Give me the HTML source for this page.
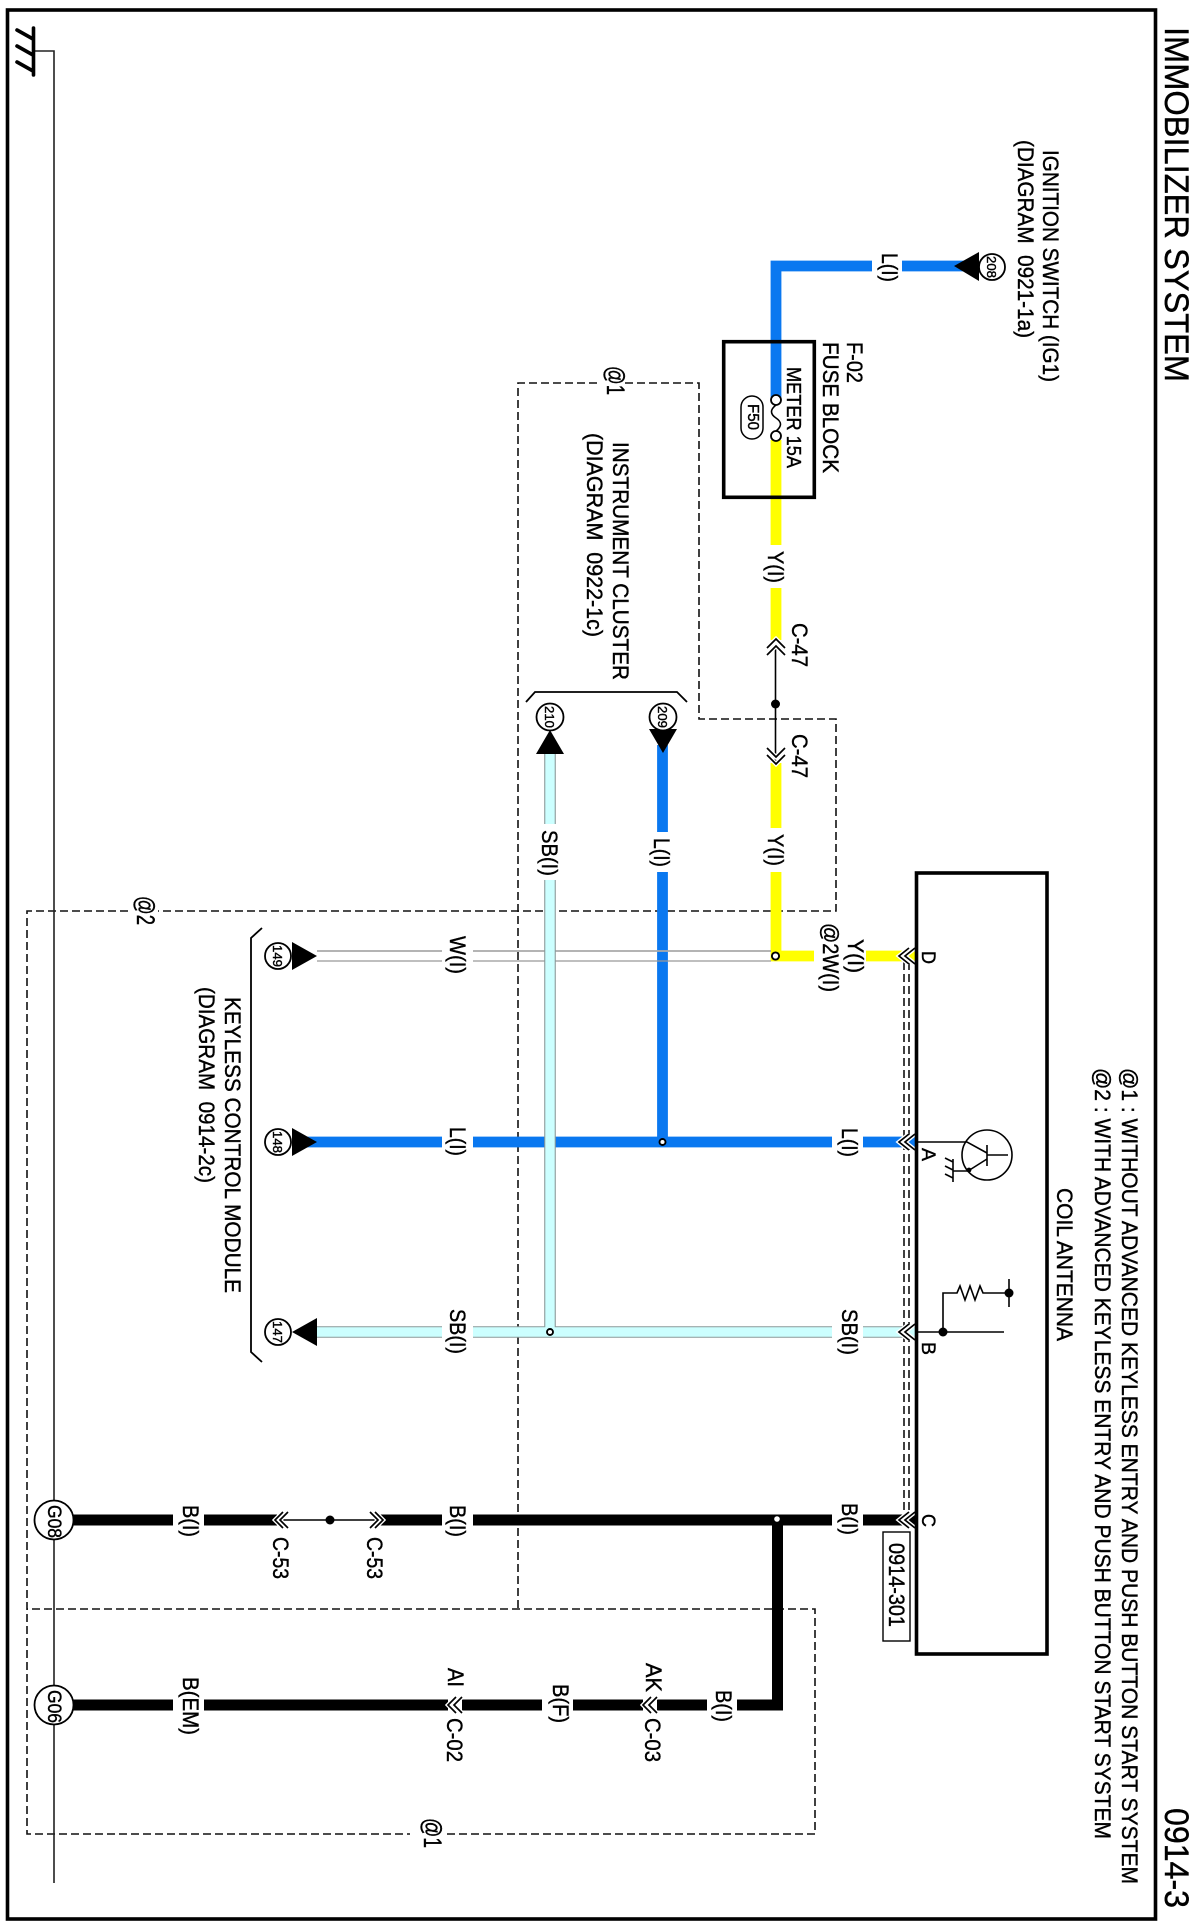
<!DOCTYPE html>
<html><head><meta charset="utf-8"><style>
html,body{margin:0;padding:0;background:#fff}
svg{display:block}
text{font-family:"Liberation Sans",sans-serif;fill:#000;stroke:#000;stroke-width:.4px}
</style></head><body>
<svg width="1197" height="1927" viewBox="0 0 1197 1927" xmlns="http://www.w3.org/2000/svg">
<rect width="1197" height="1927" fill="#fff"/>
<rect x="7.5" y="10" width="1148" height="1909" fill="none" stroke="#000" stroke-width="3.6"/>

<!-- dashed -->
<g fill="none" stroke="#111" stroke-width="1.6" stroke-dasharray="8 4">
<path d="M597 383H518V1609"/>
<path d="M625 383H699V719H836V911H158"/>
<path d="M128 911H27V1834H410"/>
<path d="M447 1834H815V1609H27"/>
<path d="M904 962V1515"/>
<path d="M909 962V1515"/>
</g>

<!-- ground bus -->
<path d="M33.5 51H54V1883" fill="none" stroke="#222" stroke-width="1.6"/>
<g stroke="#000" stroke-width="3.6" stroke-linecap="round" fill="none">
<path d="M33.5 28V75M17 30L33 39M17 46L33 55M17 62L33 71"/>
</g>

<!-- wires: blue -->
<g fill="none" stroke="#0a78f0" stroke-width="10.8">
<path d="M872 266H776V399"/>
<path d="M902 266H965"/>
<path d="M662.5 745V832M662.5 872V1142"/>
<path d="M305 1142H442M473 1142H832M863 1142H915"/>
</g>
<!-- yellow -->
<g fill="none" stroke="#ffff00" stroke-width="10.8">
<path d="M776 440V545M776 588V640"/>
<path d="M776 763V828M776 872V956H814"/>
<path d="M866 956H915"/>
</g>
<!-- white -->
<g fill="none">
<path d="M317 951H442M473 951H771" stroke="#aaa" stroke-width="1.8"/>
<path d="M317 961H442M473 961H771" stroke="#999" stroke-width="1.2"/>
</g>
<!-- light blue -->
<g fill="none" stroke="#8a9a9a" stroke-width="11.6">
<path d="M550 752V824M550 880V1332"/>
<path d="M317 1332H442M473 1332H832M863 1332H915"/>
</g>
<g fill="none" stroke="#ccffff" stroke-width="9.4">
<path d="M550 752V824M550 880V1332"/>
<path d="M317 1332H442M473 1332H832M863 1332H915"/>
</g>
<!-- black -->
<g fill="none" stroke="#000" stroke-width="11">
<path d="M73 1520H173M204 1520H277"/>
<path d="M380 1520H442M473 1520H832M863 1520H915"/>
<path d="M707 1705H657M643 1705H573M542 1705H462M448 1705H204M173 1705H73"/>
<path d="M737 1705H777.5V1520"/>
</g>
<circle cx="777" cy="1519" r="2.8" fill="#fff"/>

<!-- thin connectors -->
<g fill="none" stroke="#000" stroke-width="1.6">
<path d="M775.5 646V762"/>
<path d="M277 1520H378"/>
</g>
<circle cx="775.5" cy="704" r="4.5"/>
<circle cx="330" cy="1520" r="4.5"/>

<!-- junctions -->
<g fill="#fff" stroke="#000" stroke-width="1.9">
<circle cx="775.5" cy="956" r="3.6"/>
<circle cx="662.5" cy="1142" r="3"/>
<circle cx="550" cy="1332" r="3"/>
</g>

<!-- chevrons -->
<g fill="none" stroke="#fff" stroke-width="4.4">
<path d="M909 948L899 956L909 964M915 948L905 956L915 964"/>
<path d="M909 1134L899 1142L909 1150M915 1134L905 1142L915 1150"/>
<path d="M909 1324L899 1332L909 1340M915 1324L905 1332L915 1340"/>
<path d="M909 1512L899 1520L909 1528M915 1512L905 1520L915 1528"/>
<path d="M767 648L776 639L785 648M767 655L776 646L785 655"/>
<path d="M767 755L776 764L785 755M767 748L776 757L785 748"/>
<path d="M283 1512L275 1520L283 1528M288 1512L280 1520L288 1528"/>
<path d="M375 1512L383 1520L375 1528M370 1512L378 1520L370 1528"/>
<path d="M456 1697L448 1705L456 1713M462 1697L454 1705L462 1713"/>
<path d="M651 1697L643 1705L651 1713M657 1697L649 1705L657 1713"/>
</g>
<g fill="none" stroke="#000" stroke-width="1.7">
<path d="M909 948L899 956L909 964M915 948L905 956L915 964"/>
<path d="M909 1134L899 1142L909 1150M915 1134L905 1142L915 1150"/>
<path d="M909 1324L899 1332L909 1340M915 1324L905 1332L915 1340"/>
<path d="M909 1512L899 1520L909 1528M915 1512L905 1520L915 1528"/>
<path d="M767 648L776 639L785 648M767 655L776 646L785 655"/>
<path d="M767 755L776 764L785 755M767 748L776 757L785 748"/>
<path d="M283 1512L275 1520L283 1528M288 1512L280 1520L288 1528"/>
<path d="M375 1512L383 1520L375 1528M370 1512L378 1520L370 1528"/>
<path d="M456 1697L448 1705L456 1713M462 1697L454 1705L462 1713"/>
<path d="M651 1697L643 1705L651 1713M657 1697L649 1705L657 1713"/>
</g>

<!-- arrows -->
<path d="M954 266L979 252V281Z"/>
<path d="M317 956L292 942V970Z"/>
<path d="M317 1142L292 1128V1156Z"/>
<path d="M292 1332L317 1318V1346Z"/>
<path d="M663 753L649 729H677Z"/>
<path d="M550 730L536 754H564Z"/>

<!-- circles -->
<g fill="#fff" stroke="#000" stroke-width="1.8">
<circle cx="992" cy="267" r="13"/>
<circle cx="278" cy="956" r="13"/>
<circle cx="278" cy="1142" r="13"/>
<circle cx="278" cy="1332" r="13"/>
<circle cx="663" cy="717" r="13.5"/>
<circle cx="550" cy="717" r="13.5"/>
<circle cx="54" cy="1520" r="19.5"/>
<circle cx="54" cy="1705" r="19.5"/>
</g>

<!-- brackets -->
<g fill="none" stroke="#000" stroke-width="1.8">
<path d="M526 702L535 692H677L687 702"/>
<path d="M262 928L251 938V1352L262 1362"/>
</g>

<!-- fuse block -->
<rect x="723.7" y="341.7" width="90.6" height="155.6" fill="none" stroke="#000" stroke-width="3.6"/>
<g fill="#fff" stroke="#000" stroke-width="1.8">
<circle cx="776" cy="400" r="5"/>
<circle cx="776" cy="436" r="5"/>
</g>
<path d="M776 405Q767 412 776 418T776 431" fill="none" stroke="#000" stroke-width="1.6"/>
<rect x="741" y="396" width="22" height="43" rx="11" fill="#fff" stroke="#000" stroke-width="1.5"/>

<!-- coil antenna -->
<rect x="916.5" y="873" width="130.5" height="781" fill="none" stroke="#000" stroke-width="3.6"/>
<circle cx="987" cy="1155" r="25" fill="none" stroke="#000" stroke-width="1.6"/>
<g fill="none" stroke="#000" stroke-width="1.6">
<path d="M917 1142H967L987 1153"/>
<path d="M987 1145V1166M987 1155H1008"/>
<path d="M987 1159L968 1171H953"/>
<path d="M953 1159V1182M953 1162L945 1158M953 1170L945 1166M953 1178L945 1174"/>
<path d="M917 1332H1004"/>
<path d="M943 1332V1293H957L960 1286L965 1300L970 1286L975 1300L980 1286L983 1293H1009"/>
<path d="M1009 1279V1307"/>
</g>
<circle cx="969" cy="1170" r="2.4"/>
<circle cx="943" cy="1332" r="4.5"/>
<circle cx="1009" cy="1293" r="4.5"/>

<!-- id box -->
<rect x="883" y="1532" width="27" height="109" fill="#fff" stroke="#000" stroke-width="1.4"/>

<!-- text -->
<g>
<text transform="translate(1165 27) rotate(90)" font-size="34" textLength="355" lengthAdjust="spacingAndGlyphs">IMMOBILIZER SYSTEM</text>
<text transform="translate(1165 1808) rotate(90)" font-size="34" textLength="100" lengthAdjust="spacingAndGlyphs">0914-3</text>
<text transform="translate(1043 150) rotate(90)" font-size="22" textLength="232" lengthAdjust="spacingAndGlyphs">IGNITION SWITCH (IG1)</text>
<text transform="translate(1018 140) rotate(90)" font-size="22" textLength="198" lengthAdjust="spacingAndGlyphs" xml:space="preserve">(DIAGRAM  0921-1a)</text>
<text transform="translate(882 253) rotate(90)" font-size="22" textLength="29" lengthAdjust="spacingAndGlyphs">L(I)</text>
<text transform="translate(847 342) rotate(90)" font-size="22" textLength="41" lengthAdjust="spacingAndGlyphs">F-02</text>
<text transform="translate(823 342) rotate(90)" font-size="22" textLength="131" lengthAdjust="spacingAndGlyphs">FUSE BLOCK</text>
<text transform="translate(787 367) rotate(90)" font-size="20" textLength="101" lengthAdjust="spacingAndGlyphs">METER 15A</text>
<text transform="translate(748 404) rotate(90)" font-size="16" textLength="26" lengthAdjust="spacingAndGlyphs">F50</text>
<text transform="translate(987 256) rotate(90)" font-size="13" textLength="22" lengthAdjust="spacingAndGlyphs">208</text>
<text transform="translate(273 945) rotate(90)" font-size="13" textLength="22" lengthAdjust="spacingAndGlyphs">149</text>
<text transform="translate(273 1131) rotate(90)" font-size="13" textLength="22" lengthAdjust="spacingAndGlyphs">148</text>
<text transform="translate(273 1321) rotate(90)" font-size="13" textLength="22" lengthAdjust="spacingAndGlyphs">147</text>
<text transform="translate(658 706) rotate(90)" font-size="13" textLength="22" lengthAdjust="spacingAndGlyphs">209</text>
<text transform="translate(545 706) rotate(90)" font-size="13" textLength="22" lengthAdjust="spacingAndGlyphs">210</text>
<text transform="translate(48 1505) rotate(90)" font-size="19" textLength="33" lengthAdjust="spacingAndGlyphs">G08</text>
<text transform="translate(48 1690) rotate(90)" font-size="19" textLength="33" lengthAdjust="spacingAndGlyphs">G06</text>

<text transform="translate(768 551) rotate(90)" font-size="22" textLength="32" lengthAdjust="spacingAndGlyphs">Y(I)</text>
<text transform="translate(768 834) rotate(90)" font-size="22" textLength="32" lengthAdjust="spacingAndGlyphs">Y(I)</text>
<text transform="translate(792 623) rotate(90)" font-size="22" textLength="44" lengthAdjust="spacingAndGlyphs">C-47</text>
<text transform="translate(792 734) rotate(90)" font-size="22" textLength="44" lengthAdjust="spacingAndGlyphs">C-47</text>
<text transform="translate(654 838) rotate(90)" font-size="22" textLength="29" lengthAdjust="spacingAndGlyphs">L(I)</text>
<text transform="translate(542 830) rotate(90)" font-size="22" textLength="46" lengthAdjust="spacingAndGlyphs">SB(I)</text>
<text transform="translate(613 442) rotate(90)" font-size="22" textLength="238" lengthAdjust="spacingAndGlyphs">INSTRUMENT CLUSTER</text>
<text transform="translate(587 433) rotate(90)" font-size="22" textLength="204" lengthAdjust="spacingAndGlyphs" xml:space="preserve">(DIAGRAM  0922-1c)</text>
<text transform="translate(607 366) rotate(90)" font-size="25" textLength="29" lengthAdjust="spacingAndGlyphs">@1</text>

<text transform="translate(848 939) rotate(90)" font-size="22" textLength="34" lengthAdjust="spacingAndGlyphs">Y(I)</text>
<text transform="translate(823 923) rotate(90)" font-size="22" textLength="69" lengthAdjust="spacingAndGlyphs">@2W(I)</text>
<text transform="translate(842 1128) rotate(90)" font-size="22" textLength="29" lengthAdjust="spacingAndGlyphs">L(I)</text>
<text transform="translate(842 1309) rotate(90)" font-size="22" textLength="46" lengthAdjust="spacingAndGlyphs">SB(I)</text>
<text transform="translate(842 1503) rotate(90)" font-size="22" textLength="32" lengthAdjust="spacingAndGlyphs">B(I)</text>
<text transform="translate(922 951) rotate(90)" font-size="19" textLength="13" lengthAdjust="spacingAndGlyphs">D</text>
<text transform="translate(922 1148) rotate(90)" font-size="19" textLength="13" lengthAdjust="spacingAndGlyphs">A</text>
<text transform="translate(922 1342) rotate(90)" font-size="19" textLength="13" lengthAdjust="spacingAndGlyphs">B</text>
<text transform="translate(922 1514) rotate(90)" font-size="19" textLength="13" lengthAdjust="spacingAndGlyphs">C</text>
<text transform="translate(889 1543) rotate(90)" font-size="22" textLength="84" lengthAdjust="spacingAndGlyphs">0914-301</text>
<text transform="translate(1057 1188) rotate(90)" font-size="22" textLength="153" lengthAdjust="spacingAndGlyphs">COIL ANTENNA</text>
<text transform="translate(1122 1068) rotate(90)" font-size="22" textLength="816" lengthAdjust="spacingAndGlyphs">@1 : WITHOUT ADVANCED KEYLESS ENTRY AND PUSH BUTTON START SYSTEM</text>
<text transform="translate(1095 1068) rotate(90)" font-size="22" textLength="771" lengthAdjust="spacingAndGlyphs">@2 : WITH ADVANCED KEYLESS ENTRY AND PUSH BUTTON START SYSTEM</text>

<text transform="translate(450 936) rotate(90)" font-size="22" textLength="38" lengthAdjust="spacingAndGlyphs">W(I)</text>
<text transform="translate(450 1127) rotate(90)" font-size="22" textLength="29" lengthAdjust="spacingAndGlyphs">L(I)</text>
<text transform="translate(450 1309) rotate(90)" font-size="22" textLength="45" lengthAdjust="spacingAndGlyphs">SB(I)</text>
<text transform="translate(450 1505) rotate(90)" font-size="22" textLength="32" lengthAdjust="spacingAndGlyphs">B(I)</text>
<text transform="translate(225 997) rotate(90)" font-size="22" textLength="296" lengthAdjust="spacingAndGlyphs">KEYLESS CONTROL MODULE</text>
<text transform="translate(199 987) rotate(90)" font-size="22" textLength="196" lengthAdjust="spacingAndGlyphs" xml:space="preserve">(DIAGRAM  0914-2c)</text>
<text transform="translate(137 896) rotate(90)" font-size="25" textLength="29" lengthAdjust="spacingAndGlyphs">@2</text>
<text transform="translate(424 1818) rotate(90)" font-size="25" textLength="30" lengthAdjust="spacingAndGlyphs">@1</text>

<text transform="translate(183 1505) rotate(90)" font-size="22" textLength="32" lengthAdjust="spacingAndGlyphs">B(I)</text>
<text transform="translate(273 1537) rotate(90)" font-size="22" textLength="42" lengthAdjust="spacingAndGlyphs">C-53</text>
<text transform="translate(367 1537) rotate(90)" font-size="22" textLength="42" lengthAdjust="spacingAndGlyphs">C-53</text>
<text transform="translate(183 1677) rotate(90)" font-size="22" textLength="58" lengthAdjust="spacingAndGlyphs">B(EM)</text>
<text transform="translate(448 1668) rotate(90)" font-size="22" textLength="19" lengthAdjust="spacingAndGlyphs">AI</text>
<text transform="translate(447 1718) rotate(90)" font-size="22" textLength="44" lengthAdjust="spacingAndGlyphs">C-02</text>
<text transform="translate(553 1684) rotate(90)" font-size="22" textLength="39" lengthAdjust="spacingAndGlyphs">B(F)</text>
<text transform="translate(646 1663) rotate(90)" font-size="22" textLength="29" lengthAdjust="spacingAndGlyphs">AK</text>
<text transform="translate(645 1718) rotate(90)" font-size="22" textLength="44" lengthAdjust="spacingAndGlyphs">C-03</text>
<text transform="translate(716 1690) rotate(90)" font-size="22" textLength="32" lengthAdjust="spacingAndGlyphs">B(I)</text>
</g>
</svg>
</body></html>
